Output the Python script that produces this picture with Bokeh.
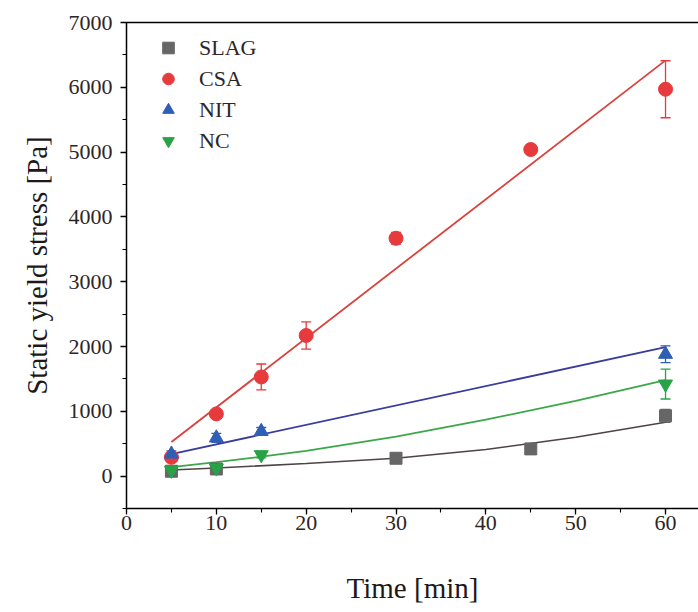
from bokeh.plotting import figure
from bokeh.models import (ColumnDataSource, Whisker, TeeHead, Legend, LegendItem,
                          LinearAxis, SingleIntervalTicker, FixedTicker)
from bokeh.embed import file_html
from bokeh.resources import INLINE

# ---- data ----
slag_t = [5, 10, 30, 45, 60]
slag_y = [75, 110, 275, 420, 930]
slag_e = [25, 30, 40, 50, 100]

csa_t = [5, 10, 15, 20, 30, 45, 60]
csa_y = [290, 960, 1530, 2170, 3670, 5040, 5970]
csa_e = [50, 60, 200, 210, 90, 50, 440]

nit_t = [5, 10, 15, 60]
nit_y = [340, 590, 690, 1880]
nit_e = [50, 70, 60, 130]

nc_t = [5, 10, 15, 60]
nc_y = [90, 125, 330, 1420]
nc_e = [30, 40, 50, 230]

# fitted curves
slag_fit_t = [5, 10, 20, 30, 40, 50, 60]
slag_fit_y = [95, 125, 195, 275, 410, 600, 830]
csa_fit_t = [5, 60]
csa_fit_y = [525, 6415]
nit_fit_t = [5, 60]
nit_fit_y = [340, 1990]
nc_fit_t = [5, 10, 15, 20, 30, 40, 50, 60]
nc_fit_y = [140, 215, 300, 390, 610, 870, 1160, 1480]

x_ticks_interval = 10
y_ticks_interval = 1000

FONT = "Liberation Serif"
TXT = "#2e2626"

p = figure(width=698, height=607, x_range=(0, 63.67), y_range=(-500, 7000),
           output_backend="svg", toolbar_location=None,
           min_border_left=126, min_border_right=0, min_border_top=22,
           min_border_bottom=99)
p.grid.visible = False
p.outline_line_color = None
p.background_fill_color = "white"

for ax, itv in ((p.xaxis[0], x_ticks_interval), (p.yaxis[0], y_ticks_interval)):
    ax.ticker = SingleIntervalTicker(interval=itv, num_minor_ticks=2)
    ax.axis_line_color = "black"
    ax.axis_line_width = 1.5
    ax.major_tick_line_color = "black"
    ax.minor_tick_line_color = "black"
    ax.major_tick_line_width = 1.3
    ax.minor_tick_line_width = 1.1
    ax.major_tick_in = 0
    ax.major_tick_out = 6
    ax.minor_tick_in = 0
    ax.minor_tick_out = 4
    ax.major_label_text_font = FONT
    ax.major_label_text_font_size = "22px"
    ax.major_label_text_color = TXT
    ax.axis_label_text_font = FONT
    ax.axis_label_text_font_size = "29px"
    ax.axis_label_text_font_style = "normal"
    ax.axis_label_text_color = "#1e1818"

p.xaxis[0].axis_label = "Time [min]"
p.xaxis[0].major_label_standoff = 1
p.xaxis[0].axis_label_standoff = 39
p.yaxis[0].axis_label = "Static yield stress [Pa]"
p.yaxis[0].major_label_standoff = 8
p.yaxis[0].axis_label_standoff = 13

top = LinearAxis(ticker=FixedTicker(ticks=[]), axis_line_color="black", axis_line_width=1.5,
                 major_tick_out=0, major_tick_in=0, minor_tick_out=0, minor_tick_in=0,
                 major_label_standoff=0)
p.add_layout(top, "above")

# fit lines
p.line(slag_fit_t, slag_fit_y, line_color="#4f4444", line_width=1.6)
p.line(csa_fit_t, csa_fit_y, line_color="#d9423c", line_width=1.8)
p.line(nit_fit_t, nit_fit_y, line_color="#3a3c9c", line_width=1.8)
p.line(nc_fit_t, nc_fit_y, line_color="#3aa84a", line_width=1.8)

series = [
    ("SLAG", slag_t, slag_y, slag_e, "#666666", "square", 12),
    ("CSA", csa_t, csa_y, csa_e, "#e63a3c", "circle", 14),
    ("NIT", nit_t, nit_y, nit_e, "#2f5fb5", "triangle", 14),
    ("NC", nc_t, nc_y, nc_e, "#28a246", "inverted_triangle", 14),
]

items = []
for name, t, y, e, col, mk, sz in series:
    src = ColumnDataSource(dict(x=t, y=y,
                                up=[a + b for a, b in zip(y, e)],
                                lo=[a - b for a, b in zip(y, e)]))
    w = Whisker(base="x", upper="up", lower="lo", source=src, line_color=col, line_width=1.3,
                upper_head=TeeHead(size=10, line_color=col, line_width=1.3),
                lower_head=TeeHead(size=10, line_color=col, line_width=1.3))
    p.add_layout(w)
    r = p.scatter("x", "y", source=src, marker=mk, size=sz, fill_color=col, line_color=col)
    items.append(LegendItem(label=name, renderers=[r]))

legend = Legend(items=items, location=(27, 353), margin=0, padding=0,
                background_fill_alpha=0, border_line_color=None,
                label_text_font=FONT, label_text_font_size="22px", label_text_color=TXT,
                glyph_width=30, glyph_height=29, label_height=29, spacing=2,
                label_standoff=16)
p.add_layout(legend, "center")

open("out.html", "w").write(file_html(p, INLINE))
